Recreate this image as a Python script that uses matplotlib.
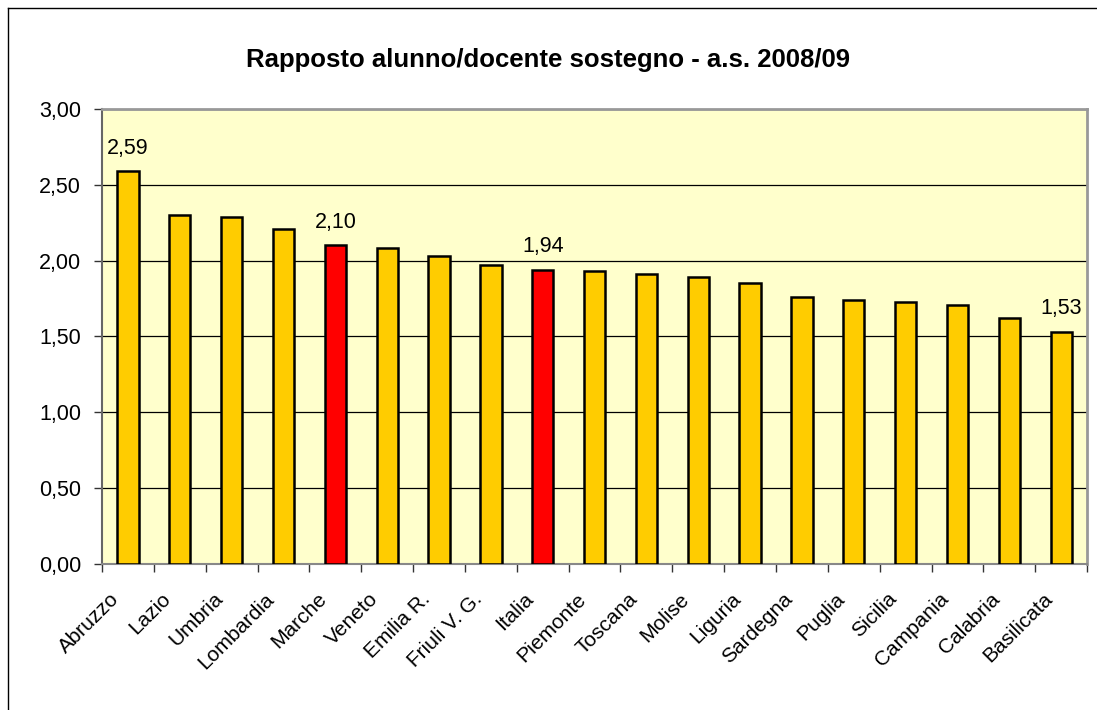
import matplotlib
matplotlib.use("Agg")
import matplotlib.pyplot as plt
from matplotlib.lines import Line2D
from matplotlib.transforms import ScaledTranslation

plt.rcParams['font.family'] = ['Liberation Sans', 'DejaVu Sans']

# Data
regioni = ['Abruzzo', 'Lazio', 'Umbria', 'Lombardia', 'Marche', 'Veneto',
           'Emilia R.', 'Friuli V. G.', 'Italia', 'Piemonte', 'Toscana',
           'Molise', 'Liguria', 'Sardegna', 'Puglia', 'Sicilia', 'Campania',
           'Calabria', 'Basilicata']
rapporto = [2.59, 2.30, 2.29, 2.21, 2.10, 2.08, 2.03, 1.97, 1.94, 1.93,
            1.91, 1.89, 1.85, 1.76, 1.74, 1.73, 1.71, 1.62, 1.53]
evidenziate = ['Marche', 'Italia']
etichette = ['Abruzzo', 'Marche', 'Italia', 'Basilicata']

fig = plt.figure(figsize=(10.97, 7.10), dpi=100)
ax = fig.add_axes([0.093, 0.2056, 0.898, 0.641])

colori = ['#FF0000' if r in evidenziate else '#FFCC00' for r in regioni]
x = list(range(len(regioni)))
ax.bar(x, rapporto, width=0.41, color=colori, edgecolor='black', linewidth=1.8, zorder=3)

for i, (r, v) in enumerate(zip(regioni, rapporto)):
    if r in etichette:
        ax.annotate(f'{v:.2f}'.replace('.', ','), (i, v), xytext=(0, 9),
                    textcoords='offset points', ha='center', va='bottom', fontsize=15.5)

ax.set_xlim(-0.5, len(regioni) - 0.5)
ax.set_ylim(0, 3)
yt = [0, 0.5, 1, 1.5, 2, 2.5, 3]
ax.set_yticks(yt)
ax.set_yticklabels([f'{v:.2f}'.replace('.', ',') for v in yt], fontsize=15.5)
ax.yaxis.grid(True, color='black', linewidth=0.9, zorder=0)
ax.set_axisbelow(True)
ax.set_facecolor('#FFFFCC')

# category labels, slanted like in the spreadsheet
ax.set_xticks(x)
ax.set_xticklabels(regioni, rotation=45, ha='right', va='center',
                   rotation_mode='anchor', fontsize=15)
ax.set_xticks([i - 0.5 for i in range(len(regioni) + 1)], minor=True)
ax.tick_params(axis='x', which='major', length=0, pad=23)
ax.tick_params(axis='x', which='minor', length=6, width=1, color='#333333')
ax.tick_params(axis='y', length=6, width=1, color='#333333', pad=9)
for lab in ax.get_xticklabels():
    lab.set_transform(lab.get_transform() + ScaledTranslation(-0.12, 0, fig.dpi_scale_trans))

for s in ['top', 'right']:
    ax.spines[s].set_color('#999999')
    ax.spines[s].set_linewidth(2)
ax.spines['left'].set_color('#666666')
ax.spines['left'].set_linewidth(1.5)
ax.spines['bottom'].set_color('#888888')
ax.spines['bottom'].set_linewidth(1.5)

fig.text(0.5, 0.9155, 'Rapposto alunno/docente sostegno - a.s. 2008/09',
         ha='center', va='center', fontsize=18.5, fontweight='bold')

# outer chart border (only top and left visible)
fig.add_artist(Line2D([8 / 1097, 8 / 1097], [0, 1 - 8 / 710], transform=fig.transFigure,
                      color='black', linewidth=1))
fig.add_artist(Line2D([8 / 1097, 1], [1 - 8 / 710, 1 - 8 / 710], transform=fig.transFigure,
                      color='black', linewidth=1))

fig.savefig('out.png', dpi=100)
